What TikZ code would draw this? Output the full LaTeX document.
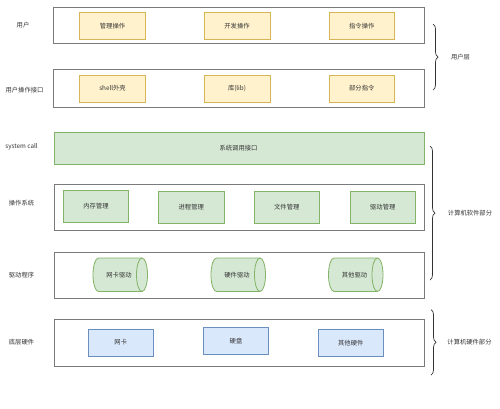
\documentclass[tikz,border=0pt]{standalone}
\usepackage{fontspec}
\setmainfont{Noto Sans CJK SC}
\usetikzlibrary{decorations.pathreplacing}
\definecolor{yfill}{HTML}{FFF2CC}
\definecolor{ydraw}{HTML}{D6B656}
\definecolor{gfill}{HTML}{D5E8D4}
\definecolor{gdraw}{HTML}{82B366}
\definecolor{bfill}{HTML}{DAE8FC}
\definecolor{bdraw}{HTML}{6C8EBF}
\definecolor{outer}{HTML}{7A7A7A}
\definecolor{txt}{HTML}{333333}
\tikzset{
  every node/.style={font=\fontsize{6.3}{7}\selectfont, text=txt, inner sep=0pt},
  layerbox/.style={draw=outer, line width=0.9pt, fill=white},
  ybox/.style={draw=ydraw, fill=yfill, line width=0.6pt},
  gbox/.style={draw=gdraw, fill=gfill, line width=0.6pt},
  bbox/.style={draw=bdraw, fill=bfill, line width=0.6pt},
  gcyl/.style={draw=gdraw, fill=gfill, line width=0.8pt},
  bracestyle/.style={draw=txt, line width=0.7pt, decorate, decoration={brace, amplitude=5pt}},
  lbl/.style={anchor=center}
}
% horizontal cylinder: #1 left x, #2 right x, #3 top y, #4 bottom y
\newcommand{\hcyl}[4]{%
  \pgfmathsetmacro{\cyrx}{5.5}%
  \pgfmathsetmacro{\cyry}{(#4-#3)/2}%
  \path[gcyl] (#1+\cyrx,#3) -- (#2-\cyrx,#3)
     arc[start angle=-90,end angle=90,x radius=\cyrx,y radius=\cyry]
     -- (#1+\cyrx,#4)
     arc[start angle=90,end angle=270,x radius=\cyrx,y radius=\cyry] -- cycle;
  \draw[gcyl, fill=none] (#2-\cyrx,#3) arc[start angle=-90,end angle=-270,x radius=\cyrx,y radius=\cyry];
}
\begin{document}
\begin{tikzpicture}[x=1pt,y=-1pt]
\useasboundingbox (0,0) rectangle (500,408);
% layer boxes
\draw[layerbox] (53.5,7.5) rectangle (424,43.5);
\draw[layerbox] (53.5,69.5) rectangle (424,107.5);
\draw[gbox] (54,132.5) rectangle (424,164.5);
\draw[layerbox] (54,184) rectangle (424,230);
\draw[layerbox] (54,252) rectangle (424,298.5);
\draw[layerbox] (54,319.5) rectangle (424,366);
\node (syscall) at (238.5,148) {系统调用接口};
% row 1
\draw[ybox] (79.5,12.5) rectangle (145.5,39.5) node[midway] (a1) {管理操作};
\draw[ybox] (204,12.5) rectangle (270,39.5) node[midway] (a2) {开发操作};
\draw[ybox] (329,12.5) rectangle (394.5,39.5) node[midway] (a3) {指令操作};
% row 2
\draw[ybox] (79.5,75) rectangle (145.5,102) node[midway] (b1) {shell外壳};
\draw[ybox] (204,75) rectangle (270,102) node[midway] (b2) {库(lib)};
\draw[ybox] (329,75) rectangle (394.5,102) node[midway] (b3) {部分指令};
% row 4
\draw[gbox] (63.5,190) rectangle (128.5,222.5) node[midway] (c1) {内存管理};
\draw[gbox] (158.5,191) rectangle (224,223.5) node[midway] (c2) {进程管理};
\draw[gbox] (254,191) rectangle (319.5,223.5) node[midway] (c3) {文件管理};
\draw[gbox] (350,191) rectangle (415.5,223.5) node[midway] (c4) {驱动管理};
% row 5 cylinders
\hcyl{93}{147.5}{258}{291.5}
\hcyl{211}{265.5}{258}{291.5}
\hcyl{328.5}{383}{258}{291.5}
\node (d1) at (119,274.8) {网卡驱动};
\node (d2) at (237,274.8) {硬件驱动};
\node (d3) at (354.5,274.8) {其他驱动};
% row 6
\draw[bbox] (88,329) rectangle (153.5,356) node[midway] (e1) {网卡};
\draw[bbox] (203.5,327.5) rectangle (268.5,354.5) node[midway] (e2) {硬盘};
\draw[bbox] (318,329) rectangle (383.5,356.5) node[midway] (e3) {其他硬件};
% left labels
\node[lbl] (l1) at (23,25.5) {用户};
\node[lbl] (l2) at (24.5,90) {用户操作接口};
\node[lbl] (l3) at (21.5,146.5) {system call};
\node[lbl] (l4) at (21.5,203.5) {操作系统};
\node[lbl] (l5) at (21.5,275.5) {驱动程序};
\node[lbl] (l6) at (21.5,342.5) {底层硬件};
% braces
\coordinate (br1t) at (433,24);
\coordinate (br1b) at (433,90);
\coordinate (br2t) at (430,146);
\coordinate (br2b) at (430,280);
\coordinate (br3t) at (431,309.5);
\coordinate (br3b) at (431,375);
\draw[bracestyle] (br1t) -- (br1b);
\draw[bracestyle] (br2t) -- (br2b);
\draw[bracestyle] (br3t) -- (br3b);
\node[lbl] (r1) at (460.5,57) {用户层};
\node[lbl] (r2) at (470,213.5) {计算机软件部分};
\node[lbl] (r3) at (469.5,342.5) {计算机硬件部分};
\end{tikzpicture}
\end{document}
